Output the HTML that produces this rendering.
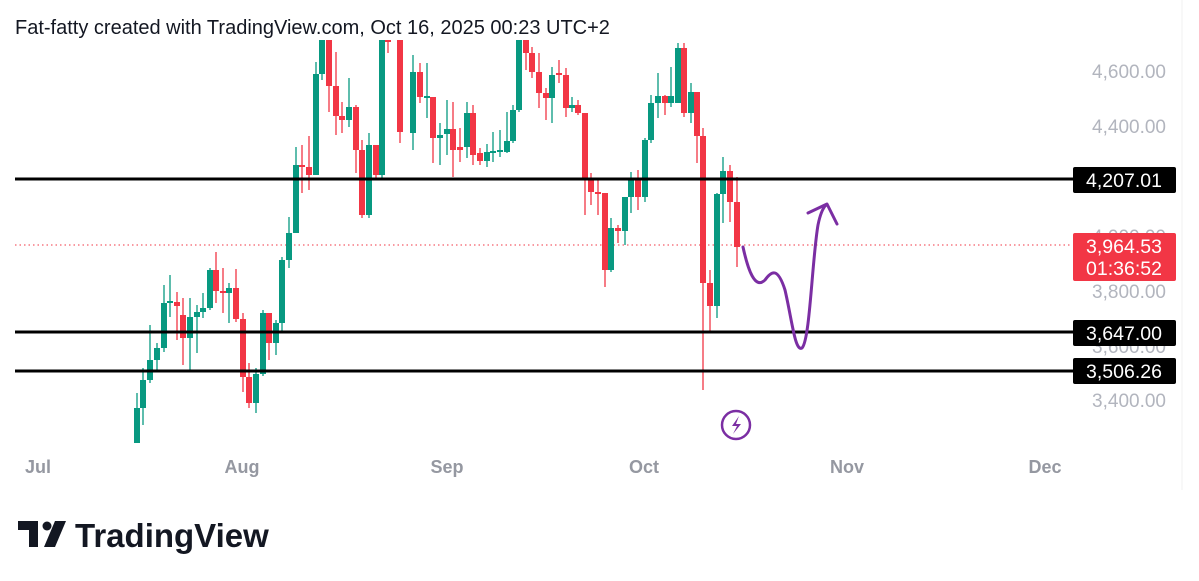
<!DOCTYPE html>
<html><head><meta charset="utf-8"><style>
html,body{margin:0;padding:0;background:#fff;width:1199px;height:581px;overflow:hidden;font-family:"Liberation Sans",sans-serif}
</style></head><body>
<svg id="s" width="1199" height="581" xmlns="http://www.w3.org/2000/svg" font-family="Liberation Sans, sans-serif">
<text x="15" y="34" font-size="20" fill="#131722">Fat-fatty created with TradingView.com, Oct 16, 2025 00:23 UTC+2</text>
<g font-size="19" fill="#b2b5be" text-anchor="end">
<text x="1166" y="78">4,600.00</text>
<text x="1166" y="133">4,400.00</text>
<text x="1166" y="243">4,000.00</text>
<text x="1166" y="298">3,800.00</text>
<text x="1166" y="353">3,600.00</text>
<text x="1166" y="407">3,400.00</text>
</g>
<g font-size="18" fill="#9598a1" text-anchor="middle" font-weight="bold">
<text x="38" y="473">Jul</text><text x="242" y="473">Aug</text><text x="447" y="473">Sep</text>
<text x="644" y="473">Oct</text><text x="847" y="473">Nov</text><text x="1045" y="473">Dec</text>
</g>
<line x1="15" y1="245" x2="1072" y2="245" stroke="#f23645" stroke-width="1" stroke-dasharray="1.5,3"/>
<g id="c"></g>
<g stroke="#000" stroke-width="3">
<line x1="15" y1="179" x2="1073" y2="179"/><line x1="15" y1="332" x2="1073" y2="332"/><line x1="15" y1="371" x2="1073" y2="371"/>
</g>
<g font-size="19.5" fill="#fff" text-anchor="middle">
<rect x="1073" y="167" width="103" height="26" rx="2" fill="#000"/><text x="1124" y="187">4,207.01</text>
<rect x="1073" y="233" width="103" height="48" rx="2" fill="#f23645"/><text x="1124" y="253">3,964.53</text><text x="1124" y="275">01:36:52</text>
<rect x="1073" y="320" width="103" height="26" rx="2" fill="#000"/><text x="1124" y="340">3,647.00</text>
<rect x="1073" y="358" width="103" height="26" rx="2" fill="#000"/><text x="1124" y="378">3,506.26</text>
</g>
<line x1="1182" y1="0" x2="1182" y2="490" stroke="#f0f0f0"/>
<path d="M743 247 C748 270,755 290,765 280 C772 270,778 268,785 290 C792 320,795 352,802 348 C810 340,812 260,818 225 C820 215,823 208,826 205" fill="none" stroke="#7b2ea3" stroke-width="3" stroke-linecap="round"/>
<path d="M808 213 L827 204 L837 224" fill="none" stroke="#7b2ea3" stroke-width="3" stroke-linecap="round" stroke-linejoin="round"/>
<circle cx="736" cy="425" r="14" fill="none" stroke="#7b2ea3" stroke-width="2.5"/>
<path d="M739 416 L732 426 L737 426 L733 434 L741 424 L736 424 Z" fill="#7b2ea3"/>
<text x="75" y="547" font-size="33" font-weight="bold" fill="#131722">TradingView</text>
<path d="M18 521 H38 V547 H29 V530 H18 Z" fill="#131722"/><circle cx="47" cy="526" r="4.5" fill="#131722"/><path d="M55 521 H66 L55 547 H44 Z" fill="#131722"/>
</svg>
<script>
var d=[[137,'g',408,443,393,443],[143,'g',380,408,368,425],[150,'g',360,380,325,383],[157,'g',348,360,343,370],[164,'g',303,348,285,352],[170,'g',301,302,275,317],[177,'r',302,306,292,340],[183,'r',315,338,298,365],[190,'g',317,338,298,372],[197,'g',312,317,305,353],[203,'g',308,312,293,318],[210,'g',270,308,268,310],[216,'r',270,291,252,303],[223,'r',291,292,268,313],[229,'g',288,293,283,323],[236,'r',288,319,269,322],[243,'r',319,377,313,392],[249,'r',377,403,363,408],[256,'g',374,403,368,413],[263,'g',313,374,310,376],[269,'r',313,343,313,360],[276,'g',323,343,320,355],[282,'g',260,323,257,332],[289,'g',233,260,217,268],[296,'g',165,233,147,233],[302,'r',165,167,145,193],[309,'r',167,175,136,190],[316,'g',74,175,62,175],[322,'g',38,74,38,80],[329,'r',38,86,38,112],[336,'r',86,116,52,135],[342,'r',116,120,102,133],[349,'g',107,120,78,127],[356,'r',107,150,105,173],[362,'r',150,215,140,218],[369,'g',145,215,133,218],[376,'r',145,175,145,180],[382,'g',38,175,38,178],[388,'r',38,40,38,53],
[400,'r',38,132,38,143],[413,'g',72,133,55,150],[420,'r',72,97,63,103],[427,'g',96,97,63,118],[433,'r',97,138,97,163],[440,'g',135,138,123,165],[447,'g',129,134,100,155],[453,'r',129,150,102,177],[460,'r',147,150,128,162],[467,'g',113,147,102,158],[473,'r',113,155,105,165],[480,'r',153,161,148,165],[487,'g',152,161,144,167],[493,'g',151,152,132,162],[500,'g',150,152,130,157],[507,'g',141,152,112,153],[513,'g',110,141,105,143],[519,'g',40,110,40,112],[526,'r',40,53,40,70],[532,'r',53,72,47,78],[539,'r',72,93,53,108],[546,'r',93,98,88,120],[552,'g',75,98,67,123],[559,'r',73,75,60,83],[566,'r',75,108,68,117],[572,'g',105,108,97,112],[578,'r',105,113,100,115],[585,'r',113,180,113,215],[591,'r',180,192,173,205],[598,'r',192,194,180,215],[605,'r',193,270,193,287],[611,'g',228,270,218,272],[618,'r',228,231,225,243],[625,'g',197,231,197,245],[631,'g',178,197,172,213],[638,'r',178,197,170,210],[645,'g',140,197,138,202],[651,'g',103,140,95,143],[658,'g',96,103,73,118],[665,'r',96,103,95,115],[671,'g',96,103,67,107],[678,'g',48,103,43,103],[684,'r',48,113,43,117],[691,'g',92,113,83,123],[697,'r',92,136,92,163],[703,'r',136,283,128,390],[710,'r',283,306,270,333],[717,'g',194,306,193,318],[723,'g',171,194,157,223],[730,'r',171,202,165,222],[737,'r',202,247,177,267]];
var h='';d.forEach(function(c){var col=c[1]=='g'?'#089981':'#f23645';var t=Math.max(40,c[4]);
h+='<line x1="'+c[0]+'" x2="'+c[0]+'" y1="'+t+'" y2="'+c[5]+'" stroke="'+col+'" stroke-width="1.3"/>';
var y=Math.max(40,c[2]),hh=Math.max(2,c[3]-y);h+='<rect x="'+(c[0]-3)+'" y="'+y+'" width="6" height="'+hh+'" fill="'+col+'"/>';});
document.getElementById('c').innerHTML=h;
</script>
</body></html>
